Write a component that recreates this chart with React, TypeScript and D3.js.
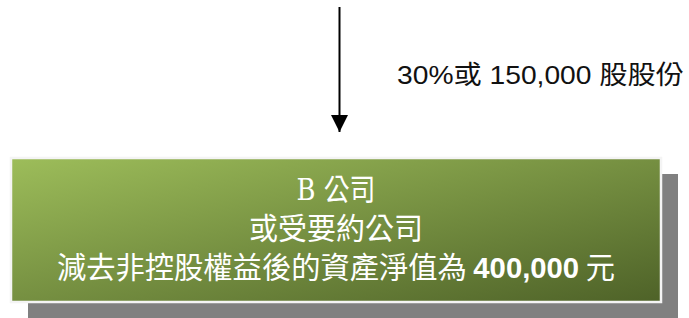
import React, { useEffect, useRef } from 'react';
import * as d3 from 'd3';

// text content of the diagram
const arrowLabel = ['30%或 150,000 股股份'];
const boxLines: { parts: { text: string; bold?: boolean; serif?: boolean }[] }[] = [
  { parts: [{ text: 'B ', serif: true }, { text: '公司' }] },
  { parts: [{ text: '或受要約公司' }] },
  { parts: [{ text: '減去非控股權益後的資產淨值為 ' }, { text: '400,000', bold: true }, { text: ' 元' }] },
];
const lineWidths = [79, 174, 558];

const W = 689;
const H = 318;

export default function App() {
  const svgRef = useRef<SVGSVGElement>(null);

  useEffect(() => {
    if (!svgRef.current) return;
    const svg = d3.select(svgRef.current);
    svg.selectAll('*').remove();

    const box = { x0: 11, y0: 158, x1: 661, y1: 302 };
    const shadowOff = { dx: 17, dy: 16 };

    const defs = svg.append('defs');
    const grad = defs.append('linearGradient')
      .attr('id', 'boxGrad')
      .attr('x1', 0).attr('y1', 0)
      .attr('x2', 1).attr('y2', 1);
    grad.append('stop').attr('offset', '0%').attr('stop-color', '#9dbd5a');
    grad.append('stop').attr('offset', '100%').attr('stop-color', '#4e6228');

    const marker = defs.append('marker')
      .attr('id', 'arrowHead')
      .attr('viewBox', '0 0 10 10')
      .attr('refX', 10).attr('refY', 5)
      .attr('markerUnits', 'userSpaceOnUse')
      .attr('markerWidth', 17).attr('markerHeight', 17)
      .attr('orient', 'auto');
    marker.append('path').attr('d', 'M0,0 L10,5 L0,10 Z').attr('fill', '#000');

    // arrow
    svg.append('line')
      .attr('x1', 339.5).attr('y1', 7)
      .attr('x2', 339.5).attr('y2', 132)
      .attr('stroke', '#000')
      .attr('stroke-width', 2)
      .attr('marker-end', 'url(#arrowHead)');

    svg.append('text')
      .attr('x', 397)
      .attr('y', 84)
      .attr('textLength', 287)
      .attr('lengthAdjust', 'spacingAndGlyphs')
      .style('font-family', '"Liberation Sans", Arial, "Noto Sans CJK TC", sans-serif')
      .style('font-size', '26px')
      .style('fill', '#111')
      .text(arrowLabel[0]);

    // shadow
    svg.append('rect')
      .attr('x', box.x0 + shadowOff.dx)
      .attr('y', box.y0 + shadowOff.dy)
      .attr('width', box.x1 - box.x0)
      .attr('height', box.y1 - box.y0)
      .attr('fill', '#808080');

    // box
    svg.append('rect')
      .attr('x', box.x0)
      .attr('y', box.y0)
      .attr('width', box.x1 - box.x0)
      .attr('height', box.y1 - box.y0)
      .attr('fill', 'url(#boxGrad)')
      .attr('stroke', '#f4f4f4')
      .attr('stroke-width', 2.5);

    const yPos = d3.scalePoint<number>()
      .domain(d3.range(boxLines.length))
      .range([200, 278]);

    const cx = 336;
    boxLines.forEach((line, i) => {
      const w = lineWidths[i];
      const t = svg.append('text')
        .attr('x', cx - w / 2)
        .attr('y', yPos(i) ?? 0)
        .attr('textLength', w)
        .attr('lengthAdjust', 'spacingAndGlyphs')
        .style('font-family', '"Noto Sans CJK TC", sans-serif')
        .style('font-size', '30px')
        .style('fill', '#fff');
      line.parts.forEach(p => {
        t.append('tspan')
          .style('font-family', p.serif ? '"DejaVu Serif", "Liberation Serif", serif'
            : p.bold ? '"Liberation Sans", Arial, sans-serif' : '"Noto Sans CJK TC", sans-serif')
          .style('font-weight', p.bold ? 'bold' : 'normal')
          .style('white-space', 'pre')
          .text(p.text);
      });
    });
  }, []);

  return (
    <svg
      ref={svgRef}
      width={W}
      height={H}
      style={{ position: 'absolute', left: 0, top: 0, display: 'block', background: '#fff' }}
    />
  );
}
